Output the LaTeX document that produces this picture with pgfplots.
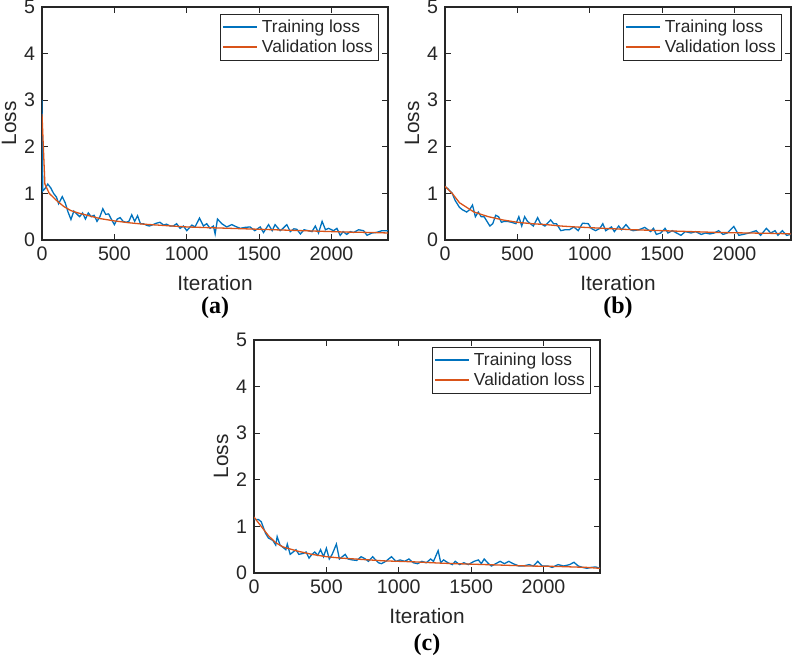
\documentclass[border=0pt]{standalone}
\usepackage{fontspec}
\setmainfont{Liberation Sans}
\newfontfamily\serifbf{Liberation Serif}
\usepackage{pgfplots}
\pgfplotsset{compat=1.18}
\definecolor{mblue}{rgb}{0,0.447,0.741}
\definecolor{morange}{rgb}{0.85,0.325,0.098}
\definecolor{axgray}{rgb}{0.15,0.15,0.15}
\pgfplotsset{
  mstyle/.style={
    scale only axis, width=173pt, height=116.5pt,
    xmin=0, xmax=2390, ymin=0, ymax=5,
    xtick={0,500,1000,1500,2000}, ytick={0,1,2,3,4,5},
    tick align=inside, major tick length=3pt,
    axis line style={draw=axgray, line width=0.6pt},
    every tick/.style={axgray, line width=0.6pt},
    /pgf/number format/assume math mode=true,
    /pgf/number format/1000 sep={},
    tick label style={font=\fontsize{9.8}{11}\selectfont, text=axgray},
    xlabel=Iteration, ylabel=Loss,
    label style={font=\fontsize{10.4}{12}\selectfont, text=axgray},
    xlabel style={at={(axis description cs:0.5,-0.185)}, anchor=center},
    ylabel style={at={(axis description cs:-0.095,0.5)}, anchor=center},
    legend style={at={(0.974,0.97)}, anchor=north east,
      font=\fontsize{8.7}{10}\selectfont, text=axgray, draw=axgray, line width=0.5pt,
      inner sep=0.8pt, row sep=-2pt, cells={anchor=west}},
    legend image code/.code={\draw[#1, line width=1pt] (0pt,0.25pt) -- (17pt,0.25pt);},
    every axis plot/.append style={no markers, line width=0.65pt},
  }
}
\begin{document}
\begin{tikzpicture}
\useasboundingbox (0,0) rectangle (397pt,-328.5pt);
% ---------------- (a)
\begin{axis}[mstyle, at={(21pt,-120pt)}, anchor=south west]
\addplot[mblue] coordinates {
(0,3.0) (5,1.05) (20,1.1) (40,1.2) (60,1.12) (80,1.0) (100,0.92) (115,0.78) (140,0.93) (160,0.8)
(180,0.6) (200,0.44) (220,0.62) (240,0.56) (260,0.5) (280,0.58) (300,0.45) (320,0.58) (340,0.5) (360,0.53)
(380,0.4) (400,0.5) (420,0.67) (440,0.55) (460,0.56) (480,0.44) (500,0.33) (520,0.45) (540,0.48) (560,0.4)
(580,0.38) (600,0.4) (620,0.54) (640,0.4) (660,0.52) (680,0.35) (700,0.35) (720,0.32) (740,0.3) (760,0.32)
(790,0.36) (815,0.38) (840,0.32) (860,0.34) (885,0.3) (907,0.3) (930,0.35) (954,0.25) (977,0.3) (1000,0.2)
(1035,0.32) (1057,0.28) (1088,0.47) (1115,0.3) (1138,0.35) (1161,0.25) (1184,0.3) (1196,0.13) (1212,0.45) (1242,0.35)
(1276,0.28) (1311,0.33) (1345,0.28) (1370,0.25) (1400,0.27) (1437,0.28) (1470,0.2) (1507,0.28) (1530,0.16) (1565,0.33)
(1590,0.2) (1610,0.33) (1645,0.2) (1665,0.25) (1691,0.33) (1715,0.18) (1740,0.24) (1760,0.23) (1785,0.13) (1810,0.22)
(1840,0.2) (1865,0.18) (1888,0.3) (1910,0.15) (1935,0.4) (1958,0.22) (1980,0.25) (2014,0.2) (2037,0.25) (2060,0.1)
(2080,0.18) (2105,0.12) (2130,0.18) (2152,0.16) (2187,0.22) (2221,0.2) (2245,0.1) (2279,0.15) (2310,0.16) (2348,0.2)
(2390,0.2)};
\addlegendentry{Training loss}
\addplot[morange] coordinates {
(0,2.7) (20,1.2) (50,1.0) (100,0.85) (150,0.72) (200,0.63) (250,0.58) (300,0.54) (400,0.46) (500,0.41)
(600,0.37) (700,0.34) (800,0.32) (900,0.30) (1000,0.28) (1100,0.27) (1200,0.26) (1300,0.25) (1400,0.24) (1500,0.23)
(1600,0.22) (1700,0.21) (1800,0.2) (1900,0.19) (2000,0.18) (2100,0.17) (2200,0.165) (2300,0.16) (2390,0.15)};
\addlegendentry{Validation loss}
\end{axis}
\node[font=\fontsize{12}{14}\selectfont\serifbf\bfseries] at (107.5pt,-154pt) {(a)};
% ---------------- (b)
\begin{axis}[mstyle, at={(222.5pt,-120pt)}, anchor=south west]
\addplot[mblue] coordinates {
(0,1.15) (20,1.1) (50,1.0) (70,0.85) (100,0.7) (120,0.65) (150,0.6) (170,0.65) (190,0.75) (210,0.5)
(230,0.6) (250,0.5) (270,0.5) (290,0.4) (310,0.3) (330,0.35) (350,0.53) (370,0.5) (390,0.38) (410,0.4)
(430,0.4) (460,0.38) (490,0.35) (510,0.5) (530,0.3) (550,0.5) (570,0.4) (590,0.35) (610,0.3) (640,0.48)
(660,0.35) (690,0.3) (730,0.43) (750,0.35) (770,0.35) (800,0.2) (830,0.22) (860,0.22) (890,0.28) (920,0.2)
(950,0.36) (990,0.35) (1010,0.25) (1040,0.2) (1070,0.25) (1090,0.35) (1110,0.2) (1150,0.28) (1170,0.18) (1200,0.3)
(1220,0.22) (1250,0.33) (1280,0.22) (1300,0.2) (1340,0.22) (1380,0.27) (1420,0.18) (1440,0.25) (1460,0.12) (1490,0.15)
(1520,0.25) (1540,0.15) (1570,0.2) (1600,0.15) (1630,0.1) (1660,0.18) (1700,0.15) (1730,0.18) (1770,0.12) (1800,0.15)
(1830,0.13) (1860,0.15) (1890,0.2) (1920,0.12) (1950,0.15) (1995,0.29) (2030,0.1) (2060,0.12) (2100,0.15) (2150,0.2)
(2180,0.1) (2220,0.25) (2250,0.15) (2280,0.2) (2300,0.1) (2330,0.2) (2360,0.1) (2390,0.12)};
\addlegendentry{Training loss}
\addplot[morange] coordinates {
(0,1.15) (50,1.0) (100,0.8) (150,0.7) (200,0.6) (300,0.5) (400,0.43) (500,0.38) (600,0.35) (700,0.33)
(800,0.3) (900,0.28) (1000,0.265) (1100,0.25) (1200,0.235) (1300,0.22) (1400,0.21) (1500,0.2) (1600,0.19) (1700,0.18)
(1800,0.17) (1900,0.16) (2000,0.155) (2100,0.15) (2200,0.145) (2300,0.14) (2390,0.13)};
\addlegendentry{Validation loss}
\end{axis}
\node[font=\fontsize{12}{14}\selectfont\serifbf\bfseries] at (309pt,-154pt) {(b)};
% ---------------- (c)
\begin{axis}[mstyle, at={(127pt,-286.5pt)}, anchor=south west]
\addplot[mblue] coordinates {
(0,1.15) (30,1.15) (50,1.1) (80,0.85) (100,0.75) (130,0.7) (150,0.6) (160,0.78) (180,0.6) (200,0.55)
(220,0.5) (230,0.62) (250,0.4) (270,0.45) (290,0.5) (310,0.4) (340,0.42) (360,0.45) (380,0.32) (400,0.4)
(420,0.45) (440,0.38) (460,0.5) (480,0.35) (500,0.53) (520,0.3) (540,0.4) (569,0.62) (590,0.3) (610,0.35)
(630,0.4) (650,0.3) (680,0.28) (710,0.27) (740,0.35) (770,0.3) (790,0.25) (820,0.35) (840,0.28) (860,0.22)
(880,0.2) (910,0.25) (950,0.35) (980,0.25) (1010,0.28) (1040,0.25) (1070,0.3) (1100,0.22) (1130,0.2) (1160,0.25)
(1190,0.22) (1220,0.3) (1240,0.25) (1272,0.48) (1290,0.22) (1310,0.28) (1340,0.22) (1370,0.18) (1390,0.25) (1420,0.18)
(1450,0.22) (1480,0.18) (1520,0.25) (1550,0.28) (1570,0.2) (1590,0.3) (1620,0.2) (1640,0.15) (1670,0.2) (1700,0.25)
(1730,0.2) (1760,0.25) (1790,0.2) (1830,0.15) (1860,0.15) (1900,0.18) (1930,0.15) (1960,0.25) (1990,0.15) (2030,0.15)
(2060,0.12) (2100,0.18) (2140,0.15) (2180,0.18) (2210,0.23) (2240,0.15) (2270,0.12) (2300,0.1) (2330,0.12) (2360,0.13)
(2390,0.1)};
\addlegendentry{Training loss}
\addplot[morange] coordinates {
(0,1.2) (50,1.0) (100,0.8) (150,0.65) (200,0.56) (300,0.47) (400,0.4) (500,0.35) (600,0.32) (700,0.3)
(800,0.28) (900,0.26) (1000,0.25) (1100,0.24) (1200,0.225) (1300,0.21) (1400,0.2) (1500,0.19) (1600,0.18) (1700,0.17)
(1800,0.16) (1900,0.15) (2000,0.145) (2100,0.14) (2200,0.13) (2300,0.12) (2390,0.1)};
\addlegendentry{Validation loss}
\end{axis}
\node[font=\fontsize{12}{14}\selectfont\serifbf\bfseries] at (213.5pt,-322.5pt) {(c)};
\end{tikzpicture}
\end{document}
